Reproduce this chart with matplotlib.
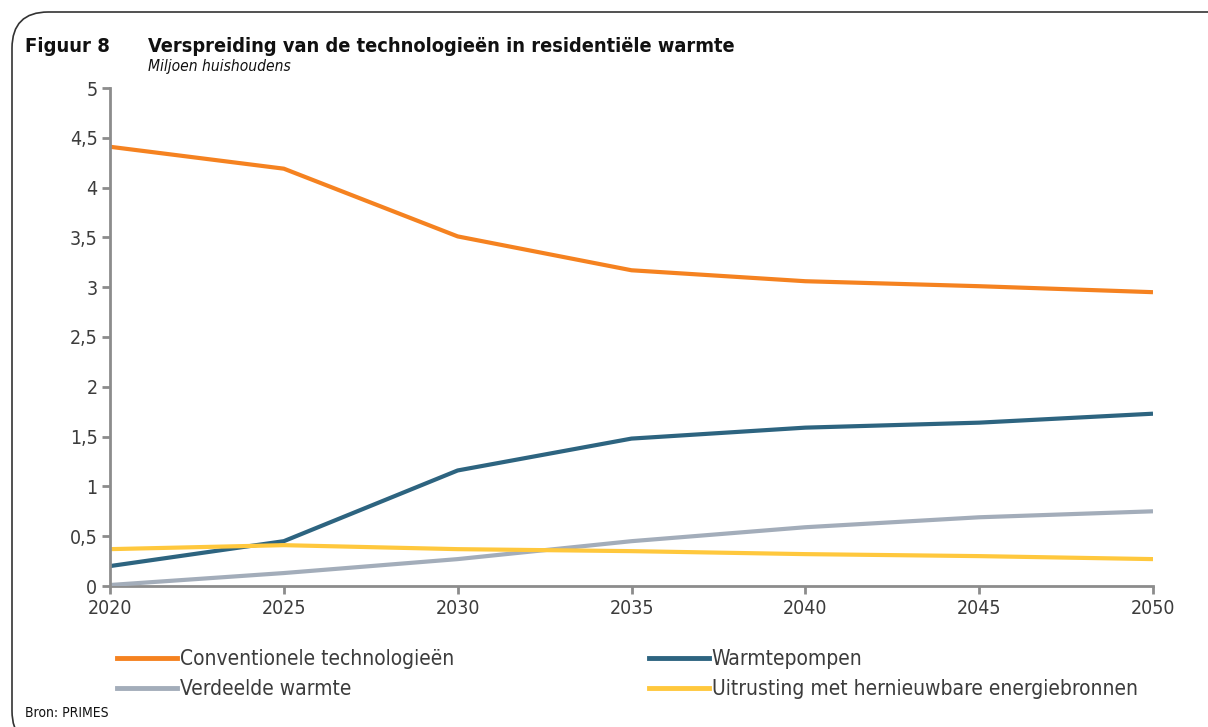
import matplotlib
matplotlib.use("Agg")
import matplotlib.pyplot as plt
from matplotlib.lines import Line2D
from matplotlib.patches import FancyBboxPatch
from matplotlib.ticker import FuncFormatter

years = [2020, 2025, 2030, 2035, 2040, 2045, 2050]
conventioneel = [4.41, 4.19, 3.51, 3.17, 3.06, 3.01, 2.95]
warmtepompen = [0.20, 0.45, 1.16, 1.48, 1.59, 1.64, 1.73]
verdeeld = [0.01, 0.13, 0.27, 0.45, 0.59, 0.69, 0.75]
hernieuwbaar = [0.37, 0.41, 0.37, 0.35, 0.32, 0.30, 0.27]

labels = ["Conventionele technologieën", "Warmtepompen",
          "Verdeelde warmte", "Uitrusting met hernieuwbare energiebronnen"]
colors = ["#F58220", "#2D6480", "#A3ADBA", "#FFC83D"]

plt.rcParams["font.family"] = ["DejaVu Sans"]
plt.rcParams["font.stretch"] = "condensed"
txt = "#3C3C3C"

fig = plt.figure(figsize=(12.08, 7.27), dpi=100)
W, H = 1208, 727

# rounded frame
frame = FancyBboxPatch((12 / W, -20 / H), 1250 / W, 735 / H,
                       boxstyle="round,pad=0,rounding_size=0.03",
                       transform=fig.transFigure, fill=False,
                       edgecolor="#333333", linewidth=1.2, clip_on=False,
                       mutation_aspect=W / H)
fig.patches.append(frame)

ax = fig.add_axes([110 / W, 1 - 586 / H, (1153 - 110) / W, (586 - 88) / H])

for vals, c, lab in zip([conventioneel, warmtepompen, verdeeld, hernieuwbaar], colors, labels):
    ax.plot(years, vals, color=c, linewidth=3, label=lab, solid_capstyle="butt", zorder=3)

ax.set_xlim(2020, 2050)
ax.set_ylim(0, 5)
ax.set_xticks(years)
ax.set_yticks([0, 0.5, 1, 1.5, 2, 2.5, 3, 3.5, 4, 4.5, 5])
ax.yaxis.set_major_formatter(FuncFormatter(lambda v, p: f"{v:g}".replace(".", ",")))

for s in ["top", "right"]:
    ax.spines[s].set_visible(False)
for s in ["left", "bottom"]:
    ax.spines[s].set_color("#8C8C8C")
    ax.spines[s].set_linewidth(2)
ax.tick_params(axis="both", direction="out", length=6, width=2, color="#8C8C8C",
               labelsize=14, labelcolor=txt, pad=3)
ax.spines["left"].set_zorder(4)

fig.text(25 / W, 1 - 47 / H, "Figuur 8", fontsize=14.5, fontweight="bold", color="#111111", va="center")
fig.text(148 / W, 1 - 47 / H, "Verspreiding van de technologieën in residentiële warmte",
         fontsize=14.3, fontweight="bold", color="#111111", va="center")
fig.text(148 / W, 1 - 66 / H, "Miljoen huishoudens", fontsize=11.2, style="italic",
         color="#111111", va="center")
fig.text(25 / W, 1 - 713 / H, "Bron: PRIMES", fontsize=10, color="#111111", va="center")

h = [Line2D([], [], color=c, linewidth=3.5) for c in colors]
for idx, x0 in [((0, 2), 117), ((1, 3), 649)]:
    fig.legend([h[i] for i in idx], [labels[i] for i in idx], loc="center left",
               bbox_to_anchor=(x0 / W, 1 - 674 / H), frameon=False, fontsize=15,
               handlelength=2.9, handletextpad=0.1, labelspacing=0.5,
               labelcolor=txt, borderaxespad=0, borderpad=0)

fig.savefig("out.png", dpi=100)
